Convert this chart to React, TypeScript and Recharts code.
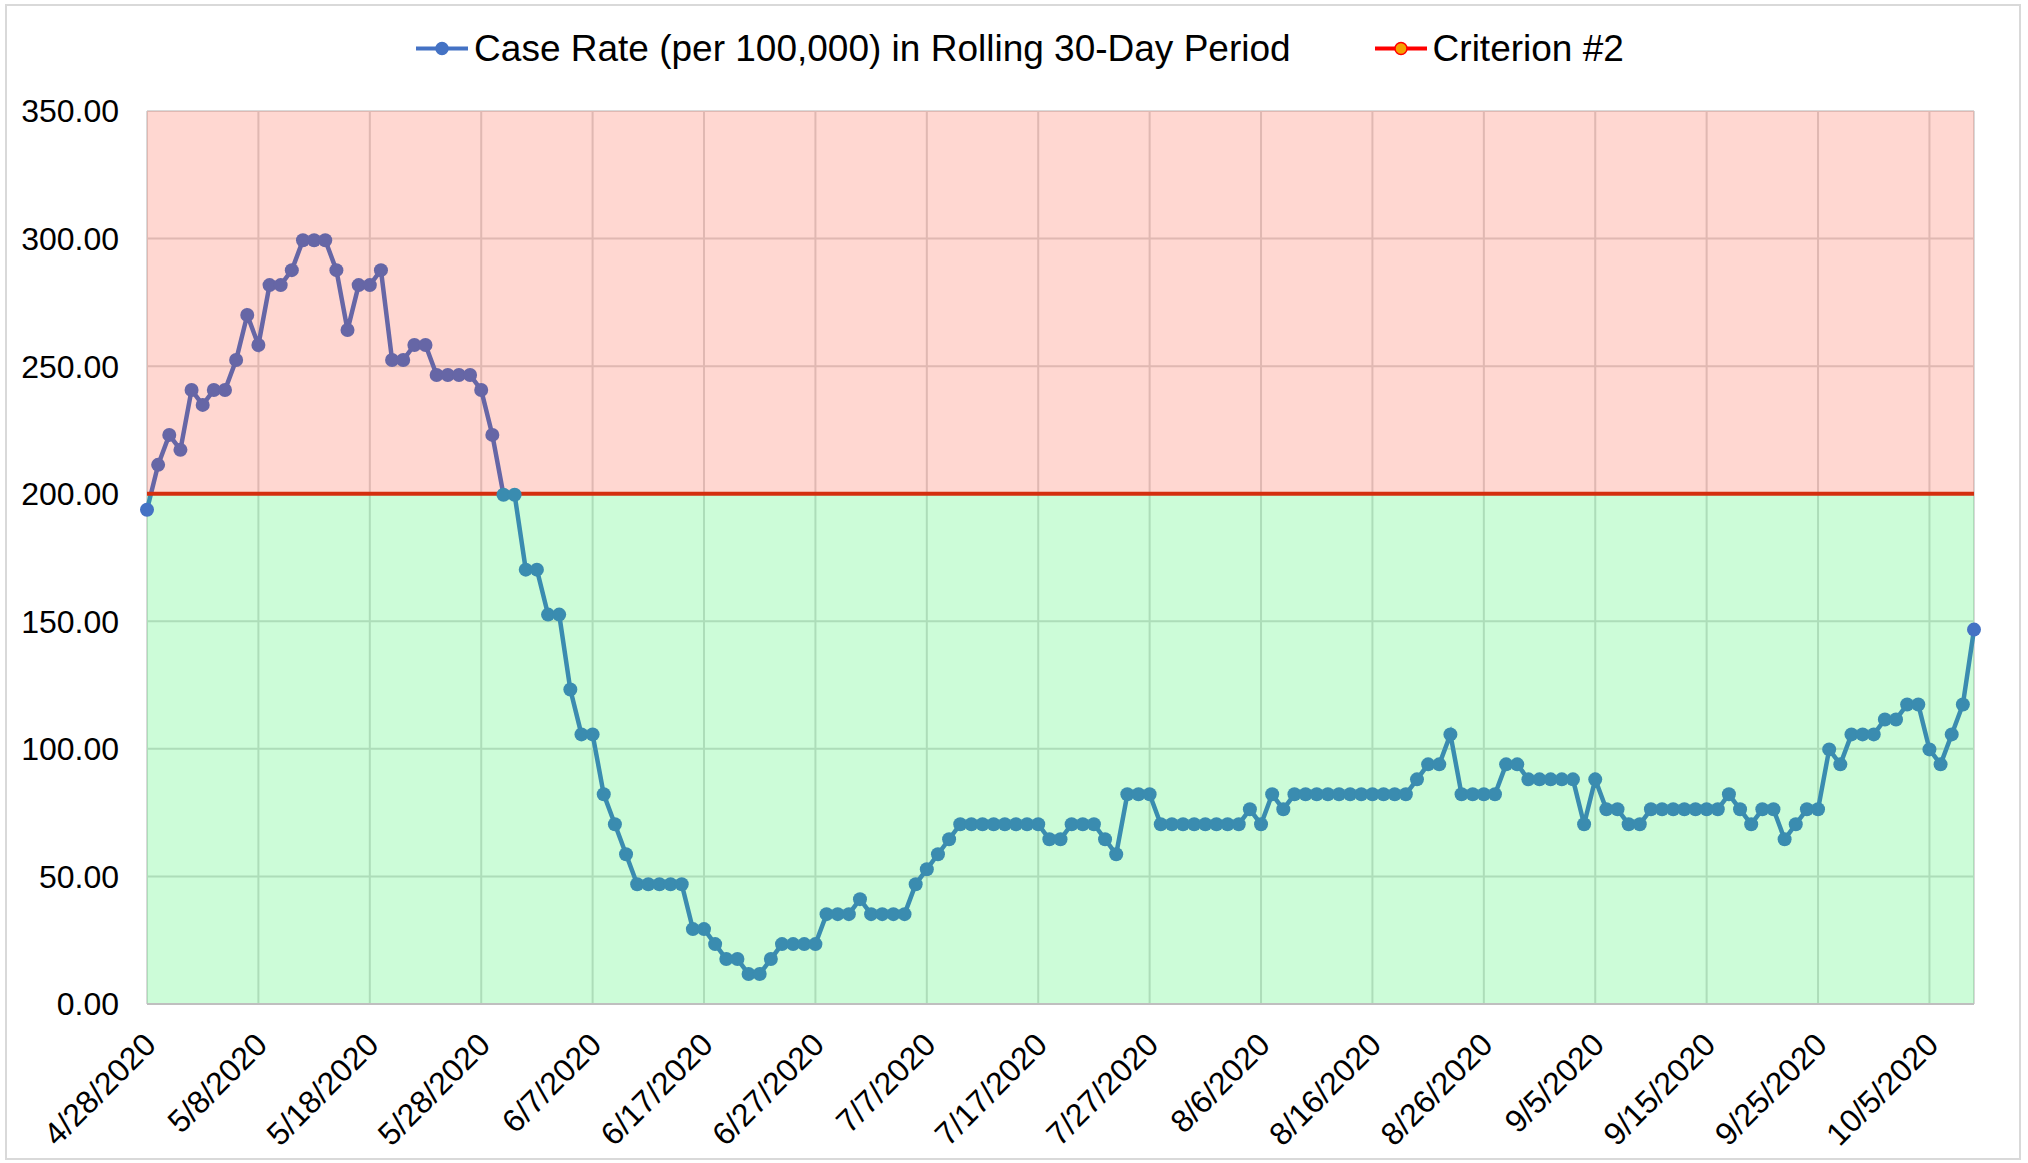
import React from "react";
import {
  LineChart,
  Line,
  XAxis,
  YAxis,
  CartesianGrid,
  ReferenceArea,
  ReferenceLine,
  Legend,
} from "recharts";

// rolling 30-day case rate per 100,000, one value per day from 4/28/2020
const CASE_RATE = [
  193.71, 211.32, 223.06, 217.19, 240.67, 234.8, 240.67, 240.67, 252.41, 270.02,
  258.28, 281.76, 281.76, 287.63, 299.37, 299.37, 299.37, 287.63, 264.15, 281.76,
  281.76, 287.63, 252.41, 252.41, 258.28, 258.28, 246.54, 246.54, 246.54, 246.54,
  240.67, 223.06, 199.58, 199.58, 170.23, 170.23, 152.62, 152.62, 123.27, 105.66,
  105.66, 82.18, 70.44, 58.7, 46.96, 46.96, 46.96, 46.96, 46.96, 29.35,
  29.35, 23.48, 17.61, 17.61, 11.74, 11.74, 17.61, 23.48, 23.48, 23.48,
  23.48, 35.22, 35.22, 35.22, 41.09, 35.22, 35.22, 35.22, 35.22, 46.96,
  52.83, 58.7, 64.57, 70.44, 70.44, 70.44, 70.44, 70.44, 70.44, 70.44,
  70.44, 64.57, 64.57, 70.44, 70.44, 70.44, 64.57, 58.7, 82.18, 82.18,
  82.18, 70.44, 70.44, 70.44, 70.44, 70.44, 70.44, 70.44, 70.44, 76.31,
  70.44, 82.18, 76.31, 82.18, 82.18, 82.18, 82.18, 82.18, 82.18, 82.18,
  82.18, 82.18, 82.18, 82.18, 88.05, 93.92, 93.92, 105.66, 82.18, 82.18,
  82.18, 82.18, 93.92, 93.92, 88.05, 88.05, 88.05, 88.05, 88.05, 70.44,
  88.05, 76.31, 76.31, 70.44, 70.44, 76.31, 76.31, 76.31, 76.31, 76.31,
  76.31, 76.31, 82.18, 76.31, 70.44, 76.31, 76.31, 64.57, 70.44, 76.31,
  76.31, 99.79, 93.92, 105.66, 105.66, 105.66, 111.53, 111.53, 117.4, 117.4,
  99.79, 93.92, 105.66, 117.4, 146.75,
];

const CRITERION = 200;
const Y_TICKS = [0, 50, 100, 150, 200, 250, 300, 350];

const DATES = CASE_RATE.map((_, i) => {
  const d = new Date(2020, 3, 28 + i);
  return `${d.getMonth() + 1}/${d.getDate()}/${d.getFullYear()}`;
});

const data = CASE_RATE.map((rate, i) => ({ date: DATES[i], rate }));

const FONT = '"Liberation Sans", Arial, sans-serif';
const BLUE = "#4472C4";
const ABOVE = "#6666A6";
const BELOW = "#3A8CB0";
const RED = "#D42E0E";

const maxV = Math.max(...CASE_RATE);
const minV = Math.min(...CASE_RATE);
const split = (maxV - CRITERION) / (maxV - minV);

const DateTick = (props: any) => {
  const { x, y, payload } = props;
  const tx = x + 3;
  const ty = y + 35;
  return (
    <text
      x={tx}
      y={ty}
      textAnchor="end"
      dominantBaseline="central"
      transform={`rotate(-45, ${tx}, ${ty})`}
      fontSize={32}
      fontFamily={FONT}
      fill="#000"
    >
      {payload.value}
    </text>
  );
};

const renderDot = (props: any) => {
  const { cx, cy, index, value } = props;
  const edge = index === 0 || index === CASE_RATE.length - 1;
  const fill = edge ? BLUE : value >= CRITERION ? ABOVE : BELOW;
  return <circle key={`dot-${index}`} cx={cx} cy={cy} r={7} fill={fill} />;
};

const LegendItem = ({ line, dot, label }: { line: string; dot: string; label: string }) => (
  <div style={{ display: "flex", alignItems: "center" }}>
    <svg width={52} height={37}>
      <line x1={0} y1={18.5} x2={52} y2={18.5} stroke={line} strokeWidth={4} />
      <circle cx={26} cy={18.5} r={6} fill={dot} stroke={line} strokeWidth={1.5} />
    </svg>
    <span style={{ marginLeft: 6 }}>{label}</span>
  </div>
);

const renderLegend = () => (
  <div
    style={{
      height: 111,
      boxSizing: "border-box",
      paddingTop: 30,
      paddingLeft: 12,
      display: "flex",
      justifyContent: "center",
      alignItems: "flex-start",
      fontFamily: FONT,
      fontSize: 37,
      lineHeight: "37px",
      color: "#000",
    }}
  >
    <LegendItem line={BLUE} dot={BLUE} label="Case Rate (per 100,000) in Rolling 30-Day Period" />
    <div style={{ width: 84 }} />
    <LegendItem line="#FF0000" dot="#F5A000" label="Criterion #2" />
  </div>
);

export default function App() {
  return (
    <div
      style={{
        position: "absolute",
        left: 0,
        top: 0,
        width: 2028,
        height: 1163,
        background: "#fff",
      }}
    >
      <div
        style={{
          position: "absolute",
          left: 5,
          top: 4,
          width: 2016,
          height: 1156,
          border: "2px solid #D9D9D9",
          boxSizing: "border-box",
        }}
      />
      <LineChart
        width={2028}
        height={1163}
        data={data}
        margin={{ top: 0, right: 54, bottom: 0, left: 0 }}
      >
        <defs>
          <linearGradient id="rateStroke" x1="0" y1="0" x2="0" y2="1">
            <stop offset={split} stopColor={ABOVE} />
            <stop offset={split} stopColor={BELOW} />
          </linearGradient>
        </defs>
        <Legend
          verticalAlign="top"
          content={renderLegend}
          wrapperStyle={{ left: 0, top: 0, width: 2028 }}
        />
        <CartesianGrid stroke="#D9D9D9" strokeWidth={2} />
        <ReferenceArea y1={CRITERION} y2={350} fill="#FF2200" fillOpacity={0.18} stroke="none" />
        <ReferenceArea y1={0} y2={CRITERION} fill="#00F03C" fillOpacity={0.2} stroke="none" />
        <XAxis
          dataKey="date"
          interval={9}
          height={159}
          tickLine={false}
          tickSize={0}
          tickMargin={0}
          axisLine={{ stroke: "#BFBFBF", strokeWidth: 2 }}
          tick={<DateTick />}
        />
        <YAxis
          domain={[0, 350]}
          ticks={Y_TICKS}
          width={147}
          axisLine={false}
          tickLine={false}
          tickSize={0}
          tickMargin={28}
          tickFormatter={(v: number) => v.toFixed(2)}
          tick={{ fill: "#000", fontSize: 32, fontFamily: FONT }}
        />
        <Line
          type="linear"
          dataKey="rate"
          stroke="url(#rateStroke)"
          strokeWidth={4.5}
          dot={renderDot}
          activeDot={false}
          isAnimationActive={false}
        />
        <ReferenceLine y={CRITERION} stroke={RED} strokeWidth={4} />
      </LineChart>
    </div>
  );
}
